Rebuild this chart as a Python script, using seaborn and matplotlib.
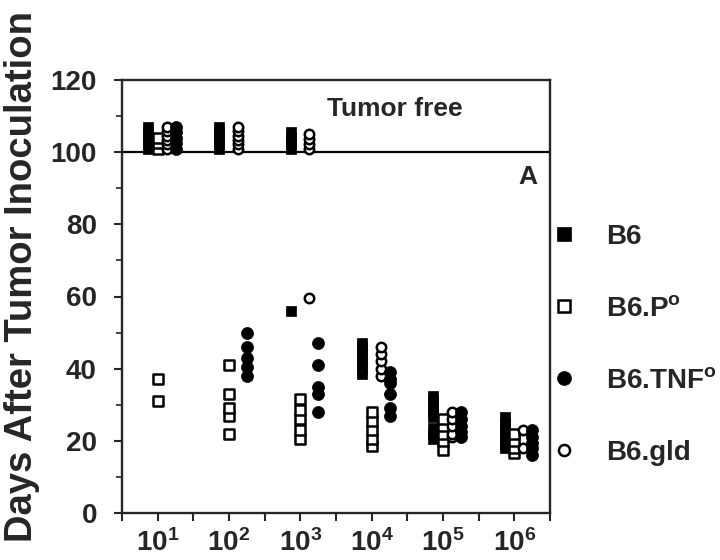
import numpy as np
import pandas as pd
import matplotlib.pyplot as plt
import seaborn as sns
from matplotlib.lines import Line2D

# Tumor inoculum (cells) and days after inoculation for each mouse, per strain
doses = ["10$^1$", "10$^2$", "10$^3$", "10$^4$", "10$^5$", "10$^6$"]
strains = ["B6", "B6.P$^o$", "B6.TNF$^o$", "B6.gld"]

# values > 100 = tumor free mice (stacked above the 100 line)
b6_days = [
    [101, 102.5, 104, 105.5, 107],
    [101, 102.5, 104, 105.5, 107],
    [56, 101, 102.5, 104, 105.5],
    [38.5, 40, 41.5, 43, 44.5, 46, 47],
    [20.5, 22, 23.5, 26.5, 28, 29.5, 31, 32.5],
    [18, 19, 20.5, 22, 23.5, 25, 26.5],
]
p0_days = [
    [31, 37, 101, 102.5, 104],
    [22, 27, 29, 33, 41],
    [20.5, 23, 26, 28.5, 31.5],
    [18.5, 20.5, 23, 25.5, 28],
    [17.5, 20, 22, 24, 26],
    [16.5, 18, 20, 22],
]
tnf_days = [
    [101, 102.5, 104, 105.5, 107],
    [38, 40.5, 43, 46, 50],
    [28, 33, 35, 41, 47],
    [27, 29, 33, 36, 37, 39],
    [21, 22.5, 24, 26, 28],
    [16, 18, 19.5, 21, 23],
]
gld_days = [
    [101, 102.2, 103.4, 104.6, 105.8, 107],
    [101, 102.2, 103.4, 104.6, 105.8, 107],
    [59.5, 101, 102.3, 103.6, 104.9],
    [38, 40, 42, 44, 46],
    [21, 22, 24, 26, 28],
    [18, 23],
]

rows = []
for strain, series in zip(strains, [b6_days, p0_days, tnf_days, gld_days]):
    for i, vals in enumerate(series):
        for v in vals:
            rows.append({"strain": strain, "dose": i, "days": v})
df = pd.DataFrame(rows)

# x position: two axis ticks per decade, strains placed side by side
offsets = {"B6": -0.27, "B6.P$^o$": 0.0, "B6.gld": 0.25, "B6.TNF$^o$": 0.5}
df["x"] = df["dose"] * 2 + 1 + df["strain"].map(offsets)

styles = {
    "B6": dict(marker="s", s=62, color="black", edgecolor="black", linewidth=0.5),
    "B6.P$^o$": dict(marker="s", s=48, color="white", edgecolor="black", linewidth=1.8),
    "B6.TNF$^o$": dict(marker="o", s=75, color="black", edgecolor="black", linewidth=0.5),
    "B6.gld": dict(marker="o", s=46, color="white", edgecolor="black", linewidth=1.8),
}
legend_ms = {"B6": 9.5, "B6.P$^o$": 8.5, "B6.TNF$^o$": 10, "B6.gld": 8}

sns.set_style("ticks")
plt.rcParams["font.family"] = ["Liberation Sans", "DejaVu Sans"]
plt.rcParams["font.weight"] = "bold"
plt.rcParams["mathtext.fontset"] = "custom"
plt.rcParams["mathtext.rm"] = "Liberation Sans:bold"
plt.rcParams["mathtext.it"] = "Liberation Sans:bold"
plt.rcParams["mathtext.bf"] = "Liberation Sans:bold"

fig = plt.figure(figsize=(7.2, 5.6), dpi=100)
ax = fig.add_axes([122 / 720, 1 - 513 / 560, 428 / 720, 433 / 560])

for strain in ["B6", "B6.P$^o$", "B6.gld", "B6.TNF$^o$"]:
    sub = df[df["strain"] == strain]
    sns.scatterplot(data=sub, x="x", y="days", ax=ax, legend=False, zorder=3, **styles[strain])

ax.axhline(100, color="black", linewidth=1.6, zorder=2)
ax.text(5.75, 112, "Tumor free", fontsize=19, fontweight="bold", ha="left", va="center")
ax.text(11.38, 93, "A", fontsize=19, fontweight="bold", ha="center", va="center")

ax.set_xlim(0, 12)
ax.set_ylim(0, 120)
ax.set_xticks(np.arange(0, 13))
ax.set_xticklabels(["" if k % 2 == 0 else doses[k // 2] for k in range(13)])
ax.set_yticks(np.arange(0, 121, 20))
ax.set_yticks(np.arange(10, 120, 20), minor=True)
ax.tick_params(axis="both", which="major", labelsize=20, length=6, width=1.5, direction="out")
ax.tick_params(axis="y", which="major", pad=12)
ax.tick_params(axis="x", which="major", pad=6)
ax.tick_params(axis="y", which="minor", length=4, width=1.2, direction="out")
for sp in ax.spines.values():
    sp.set_linewidth(1.7)
    sp.set_visible(True)
for lab in ax.get_xticklabels() + ax.get_yticklabels():
    lab.set_fontweight("bold")
ax.set_xlabel("")
ax.set_ylabel("")

fig.text(22 / 720, 1 - 276 / 560, "Days After Tumor Inoculation", rotation=90,
         fontsize=27.5, fontweight="bold", ha="center", va="center")

handles = []
for strain in strains:
    st = styles[strain]
    handles.append(Line2D([], [], linestyle="none", marker=st["marker"], markersize=legend_ms[strain],
                          markerfacecolor=st["color"], markeredgecolor="black",
                          markeredgewidth=st["linewidth"]))
fig.legend(handles, strains, loc="upper left", bbox_to_anchor=(553 / 720, 1 - 224 / 560),
           frameon=False, handlelength=0.8, handletextpad=1.1,
           labelspacing=1.65, borderpad=0, borderaxespad=0, prop={"weight": "bold", "size": 20})

fig.savefig("out.png", dpi=100)
